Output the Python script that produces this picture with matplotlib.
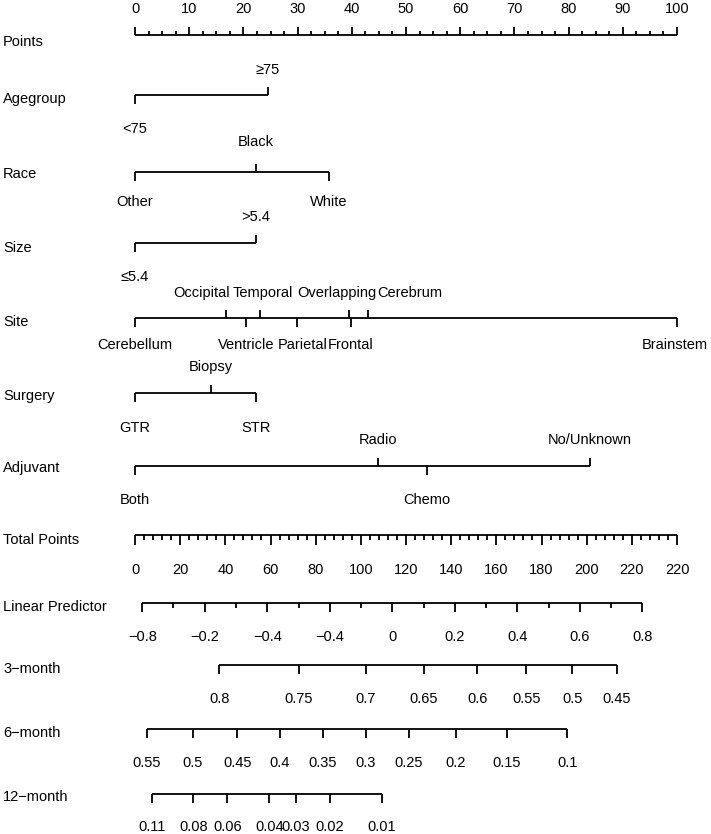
# Nomogram: points per factor level, total points, linear predictor, survival probs
import numpy as np
import matplotlib
matplotlib.use("Agg")
import matplotlib.pyplot as plt

plt.rcParams['font.family'] = ['Liberation Sans', 'DejaVu Sans']

# ---- data (points on the 0-100 scale) ----
agegroup_levels = ['<75', '≥75']
agegroup_points = [0, 24.5]
race_levels = ['Other', 'Black', 'White']
race_points = [0, 22.3, 35.8]
size_levels = ['≤5.4', '>5.4']
size_points = [0, 22.3]
site_levels = ['Cerebellum', 'Occipital', 'Ventricle', 'Temporal', 'Parietal',
               'Overlapping', 'Frontal', 'Cerebrum', 'Brainstem']
site_points = [0, 16.8, 20.4, 23.1, 29.8, 39.5, 39.8, 42.9, 100]
surgery_levels = ['GTR', 'Biopsy', 'STR']
surgery_points = [0, 14.0, 22.3]
adjuvant_levels = ['Both', 'Radio', 'Chemo', 'No/Unknown']
adjuvant_points = [0, 44.8, 53.9, 83.9]

# total points axis (labels as printed on the original)
total_ticks = [0, 20, 40, 60, 80, 100, 120, 140, 160, 180, 200, 220, 240]
total_labels = ['0', '20', '40', '60', '80', '100', '120', '140', '160',
                '180', '200', '220', '220']
total_max = 240

# linear predictor axis
lp_ticks = [-0.8, -0.6, -0.4, -0.2, 0.0, 0.2, 0.4, 0.6, 0.8]
lp_labels = ['−0.8', '−0.2', '−0.4', '−0.4', '0', '0.2', '0.4', '0.6', '0.8']
lp_anchor_total = [3.2, 224.7]   # total points at lp -0.8 and 0.8

# survival probabilities and the total points where they sit
m3_prob = ['0.8', '0.75', '0.7', '0.65', '0.6', '0.55', '0.5', '0.45']
m3_total = [37.3, 72.5, 102.3, 128.0, 151.6, 173.2, 193.6, 213.3]
m6_prob = ['0.55', '0.5', '0.45', '0.4', '0.35', '0.3', '0.25', '0.2', '0.15', '0.1']
m6_total = [5.2, 25.5, 45.3, 64.2, 83.1, 102.3, 121.3, 142.0, 164.6, 191.4]
m12_prob = ['0.11', '0.08', '0.06', '0.04', '0.03', '0.02', '0.01']
m12_total = [7.4, 25.8, 40.9, 59.5, 71.2, 86.4, 109.2]

# ---- layout ----
W, H = 711, 834
X0, PX_PER_PT = 135, 5.42
LW = 1.3
FS = 10.5


def px2x(px):
    return (px - X0) / PX_PER_PT


def tot2x(t):
    return np.asarray(t) * 100.0 / total_max


fig = plt.figure(figsize=(W / 100, H / 100), dpi=100)
ax = fig.add_axes([0, 0, 1, 1])
ax.set_xlim(px2x(0), px2x(W))
ax.set_ylim(H, 0)
ax.axis('off')


def row_label(text, y):
    ax.text(px2x(3), y, text, ha='left', va='center', fontsize=FS)


def scale_axis(y, xs, majors, labels, y_lab, minor_xs=(), up=False,
               major_len=9, minor_len=5):
    sgn = -1 if up else 1
    ax.plot([min(xs), max(xs)], [y, y], color='black', lw=LW,
            solid_capstyle='butt')
    ax.vlines(majors, y, y + sgn * major_len, color='black', lw=LW)
    if len(minor_xs):
        ax.vlines(minor_xs, y, y + sgn * minor_len, color='black', lw=LW)
    for xv, lab in zip(majors, labels):
        ax.text(xv, y_lab, lab, ha='center', va='center', fontsize=FS)


def cat_row(name, levels, pts, sides, y, y_up, y_dn, y_name, nudge=None):
    row_label(name, y_name)
    ax.plot([min(pts), max(pts)], [y, y], color='black', lw=LW,
            solid_capstyle='butt')
    nudge = nudge or {}
    for lev, p, s in zip(levels, pts, sides):
        if s == 'up':
            ax.vlines(p, y - 8, y, color='black', lw=LW)
            ty = y_up
        else:
            ax.vlines(p, y, y + 9, color='black', lw=LW)
            ty = y_dn
        ax.text(p + nudge.get(lev, 0) / PX_PER_PT, ty, lev, ha='center',
                va='center', fontsize=FS)


# Points
row_label('Points', 42)
pt_all = np.arange(0, 100.1, 2.5)
pt_major = pt_all[pt_all % 10 == 0]
pt_minor = pt_all[pt_all % 10 != 0]
scale_axis(35, pt_all, pt_major, [f'{int(v)}' for v in pt_major], 9,
           minor_xs=pt_minor, up=True, major_len=8, minor_len=4)

cat_row('Agegroup', agegroup_levels, agegroup_points, ['down', 'up'],
        95, 70, 129, 99)
cat_row('Race', race_levels, race_points, ['down', 'up', 'down'],
        171.5, 142, 202, 174)
cat_row('Size', size_levels, size_points, ['down', 'up'],
        243, 217, 277, 248)
cat_row('Site', site_levels, site_points,
        ['down', 'up', 'down', 'up', 'down', 'up', 'down', 'up', 'down'],
        318, 293, 345, 322,
        nudge={'Occipital': -24, 'Temporal': 3, 'Overlapping': -12,
               'Cerebrum': 42, 'Ventricle': 1, 'Parietal': 6, 'Brainstem': -2})
cat_row('Surgery', surgery_levels, surgery_points, ['down', 'up', 'down'],
        392.5, 367, 428, 396)
cat_row('Adjuvant', adjuvant_levels, adjuvant_points,
        ['down', 'up', 'down', 'up'], 466, 440, 500, 468)

# Total Points
row_label('Total Points', 540)
tot_major = tot2x(total_ticks)
tot_minor = tot2x([t for t in np.arange(0, total_max + 0.1, 4) if t % 20 != 0])
scale_axis(535, tot_major, tot_major, total_labels, 570, minor_xs=tot_minor,
           major_len=10, minor_len=5)

# Linear Predictor
row_label('Linear Predictor', 607)
lp_x0, lp_x1 = tot2x(lp_anchor_total)
lp_major = lp_x0 + (np.array(lp_ticks) + 0.8) / 1.6 * (lp_x1 - lp_x0)
lp_minor = (lp_major[:-1] + lp_major[1:]) / 2
scale_axis(603, lp_major, lp_major, lp_labels, 637, minor_xs=lp_minor,
           major_len=9, minor_len=5)

# survival probabilities
row_label('3−month', 669)
x3 = tot2x(m3_total)
scale_axis(665, x3, x3, m3_prob, 699)
row_label('6−month', 733)
x6 = tot2x(m6_total)
scale_axis(728.5, x6, x6, m6_prob, 763)
row_label('12−month', 797)
x12 = tot2x(m12_total)
scale_axis(793.5, x12, x12, m12_prob, 827)

fig.savefig('out.png', dpi=100)
